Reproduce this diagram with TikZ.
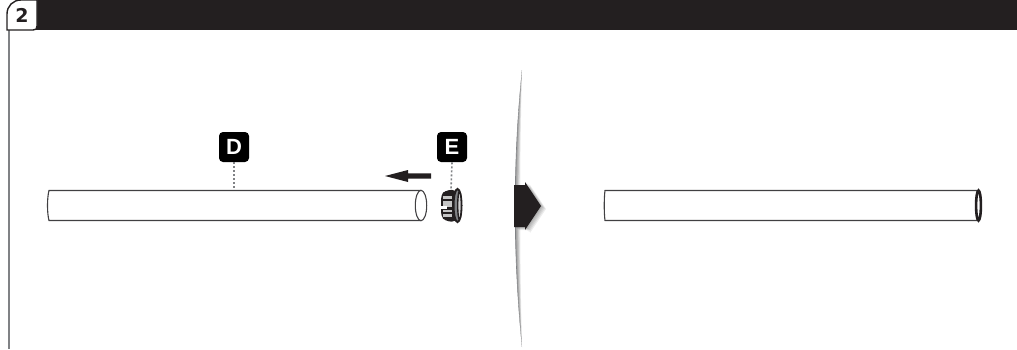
\documentclass[tikz,border=0pt]{standalone}
\usepackage{xcolor}
\usepackage{fontspec}
\setsansfont{Liberation Sans}
\newfontfamily\genisYazi{DejaVu Sans}
\usepackage{tikz}
\usetikzlibrary{arrows.meta,calc}
\definecolor{koyuSiyah}{HTML}{231F20}
\definecolor{kenarGri}{HTML}{808285}
\definecolor{boruCizgi}{HTML}{414042}
\tikzset{
  etiket/.style={fill=black,text=white,rounded corners=2pt,minimum size=15pt,inner sep=0pt,font=\sffamily\bfseries\fontsize{11}{11}\selectfont},
  noktali/.style={draw=kenarGri,line width=0.8pt,dash pattern=on 1pt off 1pt},
  boru/.style={draw=boruCizgi,line width=0.55pt}
}
\begin{document}
\begin{tikzpicture}[x=0.5pt,y=-0.5pt]
\useasboundingbox (0,0) rectangle (1017,349);
% ust bant ve sekme
\fill[koyuSiyah] (30,0) rectangle (1017,30);
\draw[kenarGri,line width=0.9pt] (9,30)--(9,349);
\draw[koyuSiyah,fill=white,line width=0.7pt] (7,30)--(7,14) .. controls (7,6) and (13,0) .. (21,0)--(37,0)--(37,26) .. controls (37,29) and (36,30) .. (33,30)--cycle;
\node[font=\genisYazi\bfseries\fontsize{9.5}{10}\selectfont,koyuSiyah] (sekme) at (22,15.5) {2};
% etiketler
\node[etiket] (etiketD) at (234,147) {D};
\node[etiket] (etiketE) at (452,147) {E};
\coordinate (boruD) at (234,190.5);
\coordinate (kapakE) at (451,189);
\draw[noktali] (etiketD)--(boruD);
\draw[noktali] (etiketE.south)--(kapakE);
% sol boru
\draw[boru,fill=white] (421,190.5)--(49,190.5) .. controls (47,198) and (47,213) .. (49,220.5)--(421,220.5);
\draw[boru,fill=white] (421,205.5) ellipse (5.7 and 15.2);
% ok
\coordinate (okBas) at (385,176);
\coordinate (okSon) at (431,176);
\fill[koyuSiyah] (okSon)++(0,-2.6)--(408,173.4)--(408,170)--(okBas)--(408,182)--(408,178.6)--(431,178.6)--cycle;
% kapak
\fill[koyuSiyah,rounded corners=2pt] (456,189.5)--(445,190.5)--(441,195)--(441,216)--(445,221)--(456,222)--cycle;
\fill[gray!45] (443,195.5) rectangle (452,206.5);
\fill[gray!45] (443,209.5) rectangle (452,216.5);
\fill[white] (440,205.5) rectangle (447,208.5);
\foreach \yy in {200,213} {
  \draw[koyuSiyah,line width=0.7pt] (443,\yy)--(452,\yy);
}
\draw[koyuSiyah,fill=kenarGri,line width=1pt] (457.5,205.5) ellipse (4 and 16.5);
\draw[koyuSiyah,fill=gray!35,line width=0.7pt] (459.5,205.5) ellipse (1.8 and 14);
% ayirici ve golge
\foreach \i in {1,...,6} {
  \pgfmathsetmacro{\gg}{\i*1.1}
  \fill[black,opacity=0.08] (522,70) .. controls (513,160) and (513,255) .. (522,347) .. controls ({513+\gg},255) and ({513+\gg},160) .. (522,70)--cycle;
}
\fill[kenarGri] (522,70) .. controls (512.5,160) and (512.5,255) .. (522,347) .. controls (513.5,255) and (513.5,160) .. (522,70)--cycle;
\foreach \i in {1,...,5} {
  \fill[black,opacity=0.07] ($(514,185)+(\i,\i*0.6)$)--++(11,0)--++(0,-3)--++(16,24)--++(-16,24)--++(0,-3)--++(-11,0)--cycle;
}
\fill[koyuSiyah] (514,185)--(525,185)--(525,182)--(541,206)--(525,230)--(525,227)--(514,227)--cycle;
% sag boru
\draw[boru,fill=white] (977,190.5)--(605,190.5) .. controls (604,198) and (604,213) .. (605,220.5)--(977,220.5);
\draw[koyuSiyah,fill=white,line width=1.3pt] (978.5,205.5) ellipse (2.4 and 15);
\end{tikzpicture}
\end{document}
